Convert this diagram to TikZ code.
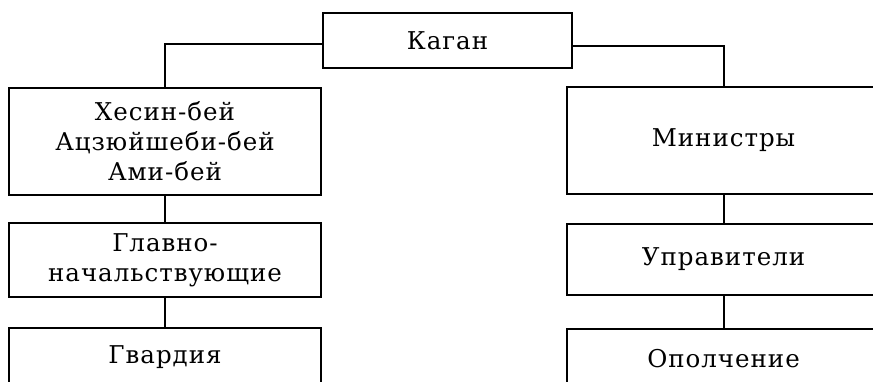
\documentclass[tikz,border=0pt]{standalone}
\usepackage{fontspec}
\setmainfont[LetterSpace=4]{DejaVu Serif}
\usetikzlibrary{calc}
\begin{document}
\begin{tikzpicture}[x=1pt,y=-1pt,
  box/.style={draw, line width=2pt, rectangle, inner sep=0pt, align=center,
    font=\fontsize{24.5}{30}\selectfont},
  link/.style={line width=2pt}]
\useasboundingbox (0,0) rectangle (873,382);
\clip (0,0) rectangle (873,382);
% top
\node[box, minimum width=249pt, minimum height=55pt] (kagan) at (447.5,40.5) {Каган};
% left column
\node[box, minimum width=312pt, minimum height=107pt] (hesin) at (165,141.5)
  {Хесин-бей\\Ацзюйшеби-бей\\Ами-бей};
\node[box, minimum width=312pt, minimum height=74pt] (glav) at (165,260)
  {Главно-\\начальствующие};
\node[box, minimum width=312pt, text height=35pt, text depth=60pt, anchor=base] (gvard) at (165,363)
  {Гвардия};
% right column
\node[box, minimum width=313pt, minimum height=107pt] (min) at (723.5,140.5) {Министры};
\node[box, minimum width=313pt, minimum height=71pt] (upr) at (723.5,259.5) {Управители};
\node[box, minimum width=313pt, text height=38pt, text depth=60pt, anchor=base] (opol) at (723.5,367)
  {Ополчение};
% connectors
\draw[link] ($(kagan.west)+(0,4)$) -| (hesin.north);
\draw[link] ($(kagan.east)+(0,6)$) -| (min.north);
\draw[link] (hesin.south) -- (glav.north);
\draw[link] (glav.south) -- (gvard.north);
\draw[link] (min.south) -- (upr.north);
\draw[link] (upr.south) -- (opol.north);
\end{tikzpicture}
\end{document}
